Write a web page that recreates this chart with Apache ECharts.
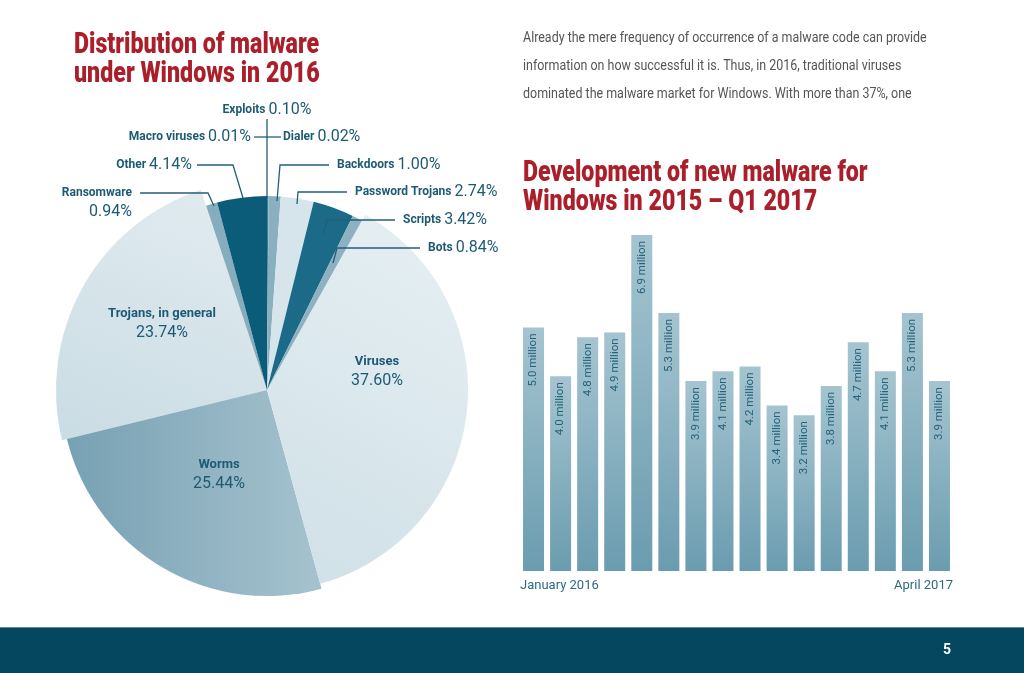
<!DOCTYPE html>
<html>
<head>
<meta charset="UTF-8">
<title>Malware under Windows</title>
<script type="text/javascript" src="https://cdn.jsdelivr.net/npm/echarts@6/dist/echarts.min.js"></script>
<style>
html, body { margin: 0; padding: 0; background: #fff; }
#main { width: 1024px; height: 673px; }
</style>
</head>
<body>
<div id="main"></div>
<script type="text/javascript">
// pie: share of malware types 2016 (clockwise from 12 o'clock)
var names = ['Macro viruses', 'Exploits', 'Dialer', 'Backdoors', 'Password Trojans', 'Scripts', 'Bots',
	'Viruses', 'Worms', 'Trojans, in general', 'Ransomware', 'Other'];
var shares = [0.01, 0.10, 0.02, 1.00, 2.74, 3.42, 0.84, 37.60, 25.44, 23.74, 0.94, 4.14];

// bars: new malware per month, millions
var months = ['January 2016', 'February 2016', 'March 2016', 'April 2016', 'May 2016', 'June 2016',
	'July 2016', 'August 2016', 'September 2016', 'October 2016', 'November 2016', 'December 2016',
	'January 2017', 'February 2017', 'March 2017', 'April 2017'];
var newMalware = [5.0, 4.0, 4.8, 4.9, 6.9, 5.3, 3.9, 4.1, 4.2, 3.4, 3.2, 3.8, 4.7, 4.1, 5.3, 3.9];
var tickLabels = ['January 2016', 'April 2017'];

var FONT = 'Roboto, sans-serif';
var TEAL = '#1d5a74';
var LINE = '#235f78';
var RED = '#ab1f2b';

function grad(x, y, x2, y2, c1, c2) {
	return { type: 'linear', x: x, y: y, x2: x2, y2: y2, colorStops: [{ offset: 0, color: c1 }, { offset: 1, color: c2 }] };
}

var sliceColor = {
	'Macro viruses': '#0b5c79',
	'Exploits': '#2d6f88',
	'Dialer': '#86adbd',
	'Backdoors': '#8ab0bf',
	'Password Trojans': '#d6e5eb',
	'Scripts': '#1b6a87',
	'Bots': '#8db1c0',
	'Viruses': grad(1, 0, 0, 1, '#e7f0f3', '#cfe0e7'),
	'Worms': grad(0, 0, 1, 0, '#77a1b3', '#a6c2ce'),
	'Trojans, in general': grad(0.5, 0, 0, 1, '#dfeaef', '#cadce4'),
	'Ransomware': '#86adbd',
	'Other': '#0b5c79'
};
// slices are drawn with slightly different radii
var sliceRadius = { 'Viruses': 201, 'Worms': 206, 'Trojans, in general': 211 };
var baseRadius = 194;

// where each pie label sits, with its leader line
var labelSpot = {
	'Exploits': { x: 267, y: 110, align: 'center', line: [[267, 198], [267, 119]] },
	'Macro viruses': { x: 251, y: 137, align: 'right', line: [[267, 137], [254, 137]] },
	'Dialer': { x: 283, y: 137, align: 'left', line: [[267, 137], [281, 137]] },
	'Other': { x: 192, y: 165, align: 'right', line: [[243, 198], [233, 165], [197, 165]] },
	'Ransomware': { x: 132, y: 202, align: 'right', line: [[214, 206], [208, 193], [140, 193]] },
	'Backdoors': { x: 337, y: 165, align: 'left', line: [[277, 201], [280, 165], [329, 165]] },
	'Password Trojans': { x: 355, y: 192, align: 'left', line: [[297, 204], [298, 192], [347, 192]] },
	'Scripts': { x: 403, y: 220, align: 'left', line: [[323, 234], [327, 220], [395, 220]] },
	'Bots': { x: 428, y: 248, align: 'left', line: [[333, 263], [337, 248], [420, 248]] },
	'Trojans, in general': { x: 162, y: 323, align: 'center' },
	'Viruses': { x: 377, y: 371, align: 'center' },
	'Worms': { x: 219, y: 474, align: 'center' }
};
var inner = ['Trojans, in general', 'Viruses', 'Worms', 'Ransomware'];

function radiusOf(n) {
	return sliceRadius[n] || baseRadius;
}

// largest slices first, small ones on top
var radii = [];
names.forEach(function(n) {
	if (radii.indexOf(radiusOf(n)) < 0) radii.push(radiusOf(n));
});
radii.sort(function(a, b) { return b - a; });

var pieSeries = radii.map(function(r, k) {
	return {
		type: 'pie',
		z: 2 + k,
		center: [267, 390],
		radius: [0, r],
		startAngle: 90,
		avoidLabelOverlap: false,
		silent: true,
		labelLine: { show: false },
		data: names.map(function(n, i) {
			var mine = radiusOf(n) === r;
			var inside = n === 'Trojans, in general' || n === 'Viruses' || n === 'Worms';
			return {
				name: n,
				value: shares[i],
				itemStyle: { color: mine ? sliceColor[n] : 'rgba(0,0,0,0)' },
				label: { show: mine, position: inside ? 'inside' : 'outside' }
			};
		}),
		label: {
			fontFamily: FONT,
			formatter: function(p) {
				var v = p.value.toFixed(2) + '%';
				var big = p.name === 'Trojans, in general' || p.name === 'Viruses' || p.name === 'Worms';
				var sep = inner.indexOf(p.name) >= 0 ? '\n' : ' ';
				return '{' + (big ? 'N' : 'n') + '|' + p.name + '}' + sep + '{v|' + v + '}';
			},
			rich: {
				n: { fontFamily: FONT, fontSize: 12, fontWeight: 'bold', color: TEAL, lineHeight: 19 },
				N: { fontFamily: FONT, fontSize: 13, fontWeight: 'bold', color: TEAL, lineHeight: 19 },
				v: { fontFamily: FONT, fontSize: 16, color: TEAL, lineHeight: 19 }
			}
		},
		labelLayout: function(params) {
			var s = labelSpot[names[params.dataIndex]];
			if (!s) return {};
			return { x: s.x, y: s.y, align: s.align, verticalAlign: 'middle' };
		}
	};
});

var barSeries = {
	type: 'bar',
	xAxisIndex: 0,
	yAxisIndex: 0,
	data: newMalware,
	barWidth: 21,
	silent: true,
	itemStyle: { color: grad(0, 0, 0, 1, '#a5c4d0', '#6a9caf') },
	label: {
		show: true,
		position: 'insideTop',
		rotate: 90,
		align: 'right',
		verticalAlign: 'middle',
		distance: 6,
		fontFamily: FONT,
		fontSize: 11.5,
		color: '#23627c',
		formatter: function(p) {
			return p.value.toFixed(1) + ' million';
		}
	}
};

// leader lines of the pie labels, drawn over the slices
var leaders = Object.keys(labelSpot).filter(function(n) {
	return labelSpot[n].line;
}).map(function(n) {
	return {
		type: 'polyline',
		z: 50,
		silent: true,
		shape: { points: labelSpot[n].line },
		style: { stroke: LINE, lineWidth: 1.3, fill: null }
	};
});

var mychart = echarts.init(document.getElementById('main'));
var option = {
	backgroundColor: '#ffffff',
	animation: false,
	grid: { left: 520, width: 433, top: 235, bottom: 102 },
	xAxis: [{
		type: 'category',
		data: months,
		axisLine: { show: false },
		axisTick: { show: false },
		axisLabel: { show: false }
	}, {
		// only first and last month are labelled, at the ends of the axis
		type: 'category',
		position: 'bottom',
		boundaryGap: false,
		data: tickLabels,
		axisLine: { show: false },
		axisTick: { show: false },
		axisLabel: {
			margin: 8,
			fontFamily: FONT,
			fontSize: 13,
			color: '#2f6a82',
			alignMinLabel: 'left',
			alignMaxLabel: 'right'
		}
	}],
	yAxis: { type: 'value', min: 0, max: 6.9, show: false },
	series: pieSeries.concat([barSeries]),
	graphic: leaders.concat([{
		type: 'text',
		x: 74,
		y: 31,
		scaleX: 0.8,
		style: {
			text: 'Distribution of malware\nunder Windows in 2016',
			font: '900 29px ' + FONT,
			fill: RED,
			lineHeight: 29
		}
	}, {
		type: 'text',
		x: 523,
		y: 159,
		scaleX: 0.8,
		style: {
			text: 'Development of new malware for\nWindows in 2015 \u2013 Q1 2017',
			font: '900 29px ' + FONT,
			fill: RED,
			lineHeight: 29
		}
	}, {
		type: 'text',
		x: 523,
		y: 24,
		scaleX: 0.89,
		style: {
			text: 'Already the mere frequency of occurrence of a malware code can provide\n' +
				'information on how successful it is. Thus, in 2016, traditional viruses\n' +
				'dominated the malware market for Windows. With more than 37%, one',
			font: '14px ' + FONT,
			fill: '#555555',
			lineHeight: 28
		}
	}, {
		type: 'rect',
		shape: { x: 0, y: 627, width: 1024, height: 46 },
		style: { fill: '#05475f' }
	}, {
		type: 'rect',
		shape: { x: 0, y: 627, width: 1024, height: 1 },
		style: { fill: '#5f8b9c' }
	}, {
		type: 'text',
		x: 943,
		y: 643,
		style: { text: '5', font: 'bold 14px ' + FONT, fill: '#ffffff' }
	}])
};
mychart.setOption(option);
</script>
</body>
</html>
